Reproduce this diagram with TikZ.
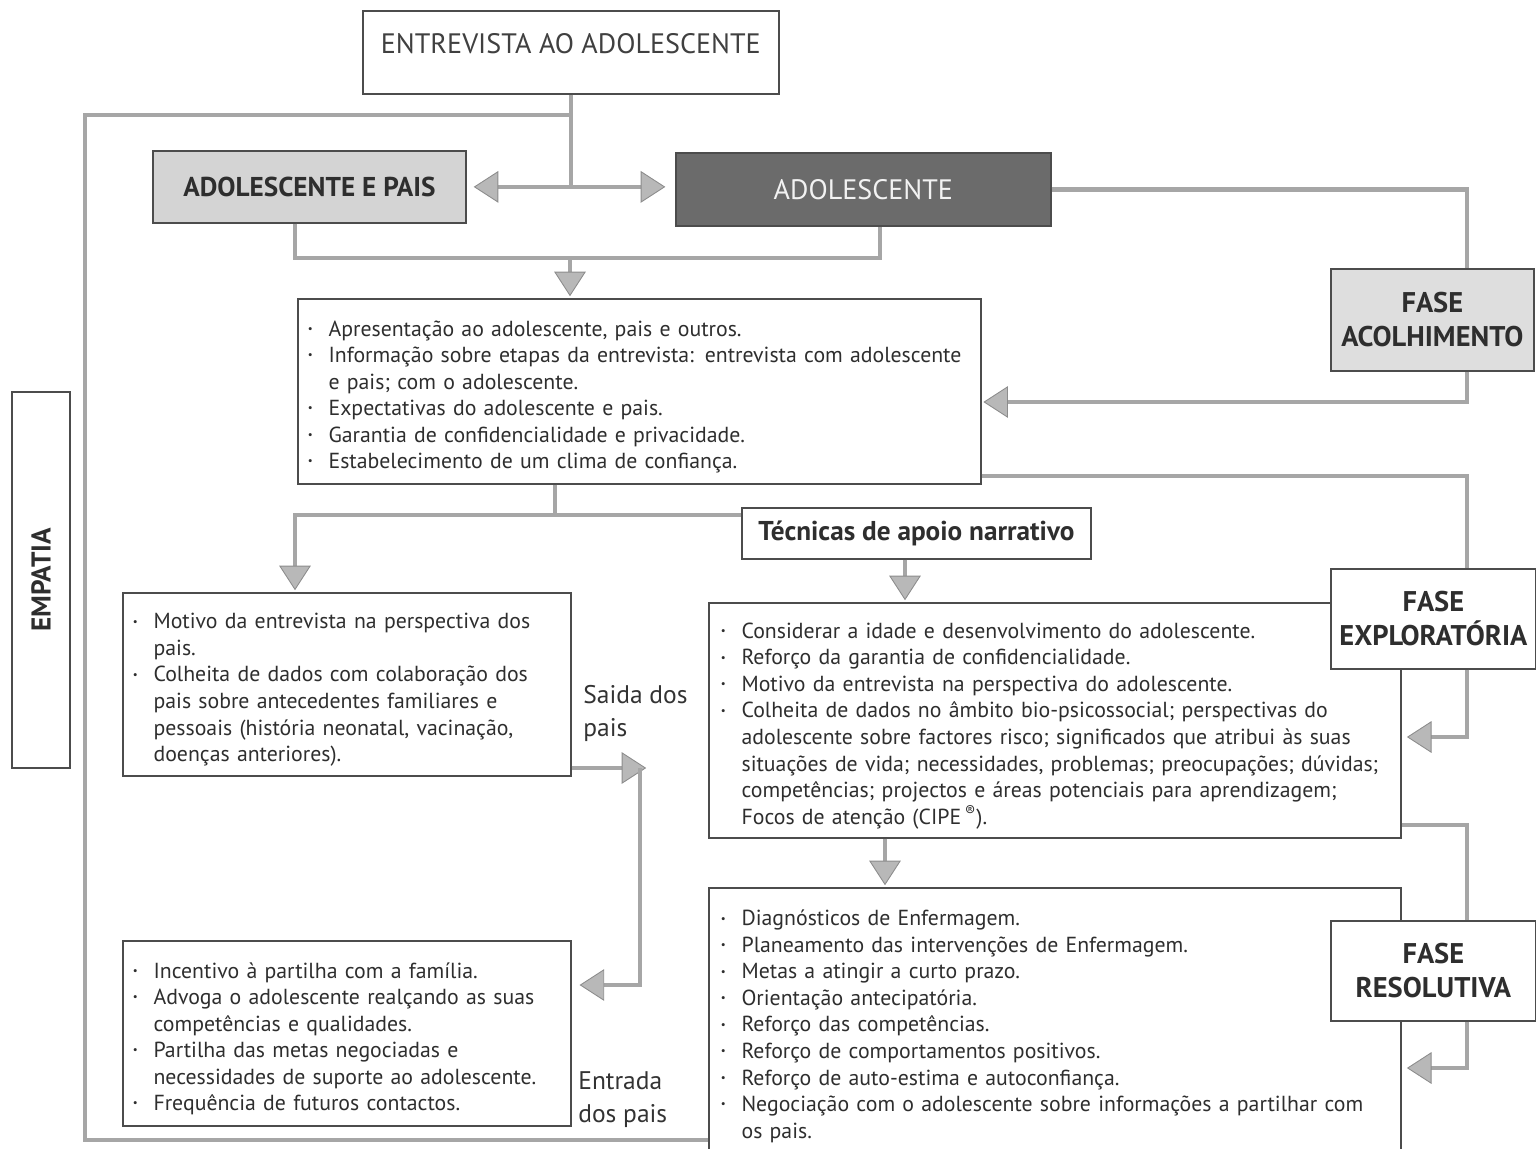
\documentclass[tikz,border=0pt]{standalone}
\usepackage{fontspec}
\setmainfont{PT Sans}
\usetikzlibrary{positioning,arrows.meta}
\newcommand{\bitem}{\par\noindent\hangindent=0.95em\hangafter=1\makebox[0.95em][l]{\raisebox{0.35ex}{\scalebox{0.5}{\textbullet}}}}

\begin{document}
\begin{tikzpicture}[x=0.02cm, y=-0.02cm,
  box/.style={draw=black!70, line width=1pt, anchor=north west, inner sep=0pt, text=black!82},
  lst/.style={box, align=left, inner xsep=0.2cm, font=\fontsize{12.4}{15.1}\selectfont},
  head/.style={box, align=center, font=\bfseries\fontsize{16.2}{19.5}\selectfont},
  lab/.style={anchor=north west, inner sep=0pt, align=left, text=black!80, font=\fontsize{14.5}{19}\selectfont},
  conn/.style={draw=black!35, line width=2.5pt, >={Triangle[length=14pt, width=18pt, line width=0.5pt, color=black!45, fill=black!28]}},
  arr/.style={conn, ->, shorten >=1pt}]
\useasboundingbox (0,0) rectangle (1536,1149);
\coordinate (rx) at (1467,0);

% top of the interview
\node[box, minimum width=8.32cm, minimum height=1.66cm, font=\fontsize{16}{18}\selectfont, text=black!75] (entr) at (362,10) {ENTREVISTA AO ADOLESCENTE\rule[-1.2ex]{0pt}{0pt}};
\node[box, fill=black!17, minimum width=6.26cm, minimum height=1.44cm, font=\bfseries\fontsize{15.5}{18}\selectfont] (ap) at (152,150) {ADOLESCENTE E PAIS};
\node[box, fill=black!58, text=black!5, minimum width=7.5cm, minimum height=1.46cm, font=\fontsize{16}{18}\selectfont] (adol) at (675,152) {ADOLESCENTE};
\node[head, fill=black!13, minimum width=4.06cm, minimum height=2.04cm] (facol) at (1330,268) {FASE\\ACOLHIMENTO};
\node[box, anchor=center, rotate=90, minimum width=7.52cm, minimum height=1.16cm, font=\bfseries\fontsize{15.5}{18}\selectfont] (emp) at (41,580) {EMPATIA};

\node[lst, text width=13.26cm, minimum height=3.7cm] (intro) at (297,298) {%
\bitem Apresentação ao adolescente, pais e outros.
\bitem Informação sobre etapas da entrevista: entrevista com adolescente\newline e pais; com o adolescente.
\bitem Expectativas do adolescente e pais.
\bitem Garantia de confidencialidade e privacidade.
\bitem Estabelecimento de um clima de confiança.\par};
\node[box, minimum width=6.98cm, minimum height=1.02cm, font=\bfseries\fontsize{15.5}{18}\selectfont] (tec) at (741,507) {Técnicas de apoio narrativo};

% parents side
\node[lst, text width=8.56cm, minimum height=3.66cm] (pais) at (122,592) {%
\bitem Motivo da entrevista na perspectiva dos\newline pais.
\bitem Colheita de dados com colaboração dos\newline pais sobre antecedentes familiares e\newline pessoais (história neonatal, vacinação,\newline doenças anteriores).\par};
\node[lst, text width=8.56cm, minimum height=3.7cm] (fam) at (122,940) {%
\bitem Incentivo à partilha com a família.
\bitem Advoga o adolescente realçando as suas\newline competências e qualidades.
\bitem Partilha das metas negociadas e\newline necessidades de suporte ao adolescente.
\bitem Frequência de futuros contactos.\par};
\node[lab] (saida) at (583,685) {Saida dos\\pais};
\node[lab] (entrada) at (578,1071) {Entrada\\dos pais};

% adolescent side
\node[lst, inner xsep=0.24cm, text width=13.36cm, minimum height=4.7cm] (explo) at (708,602) {%
\bitem Considerar a idade e desenvolvimento do adolescente.
\bitem Reforço da garantia de confidencialidade.
\bitem Motivo da entrevista na perspectiva do adolescente.
\bitem Colheita de dados no âmbito bio-psicossocial; perspectivas do\newline adolescente sobre factores risco; significados que atribui às suas\newline situações de vida; necessidades, problemas; preocupações; dúvidas;\newline competências; projectos e áreas potenciais para aprendizagem;\newline Focos de atenção (CIPE\,\textsuperscript{\textregistered}).\par};
\node[lst, inner xsep=0.24cm, text width=13.36cm, minimum height=5.32cm] (res) at (708,887) {%
\bitem Diagnósticos de Enfermagem.
\bitem Planeamento das intervenções de Enfermagem.
\bitem Metas a atingir a curto prazo.
\bitem Orientação antecipatória.
\bitem Reforço das competências.
\bitem Reforço de comportamentos positivos.
\bitem Reforço de auto-estima e autoconfiança.
\bitem Negociação com o adolescente sobre informações a partilhar com\newline os pais.\par};
\node[head, fill=white, minimum width=4.1cm, minimum height=2cm] (fexp) at (1330,568) {FASE\\EXPLORATÓRIA};
\node[head, fill=white, minimum width=4.1cm, minimum height=2cm] (fres) at (1330,920) {FASE\\RESOLUTIVA};

% connectors
\draw[conn] (570,115) -| (85,1140) -- (res.west |- 0,1140);
\draw[conn] (entr.south) -- (entr.south |- ap.east);
\draw[conn, <->, shorten <=4pt, shorten >=5.5pt] (ap.east) -- (ap.east -| adol.west);
\draw[conn] (295,0 |- ap.south) -- (295,258) -| (880,0 |- adol.south);
\draw[arr] (570,258) -- (570,0 |- intro.north);
\draw[conn] (adol.east) -| (rx |- facol.north);
\draw[arr] (rx |- facol.south) |- (intro.east |- 0,402);
\draw[conn] (555,0 |- intro.south) -- (555,515);
\draw[arr] (tec.west |- 0,515) -| (295,0 |- pais.north);
\draw[conn] (intro.east |- 0,476) -| (rx |- fexp.north);
\draw[arr] (tec.south -| 905,0) -- (905,0 |- explo.north);
\draw[arr, shorten >=3pt] (rx |- fexp.south) |- (explo.east |- 0,737);
\draw[conn] (explo.east |- 0,825) -| (rx |- fres.north);
\draw[arr, shorten >=3pt] (rx |- fres.south) |- (res.east |- 0,1068);
\draw[arr] (885,0 |- explo.south) -- (885,0 |- res.north);
\draw[arr] (pais.east |- 0,768) -- (648,768);
\draw[arr, shorten >=4.5pt] (640,768) |- (fam.east |- 0,985);
\end{tikzpicture}
\end{document}
